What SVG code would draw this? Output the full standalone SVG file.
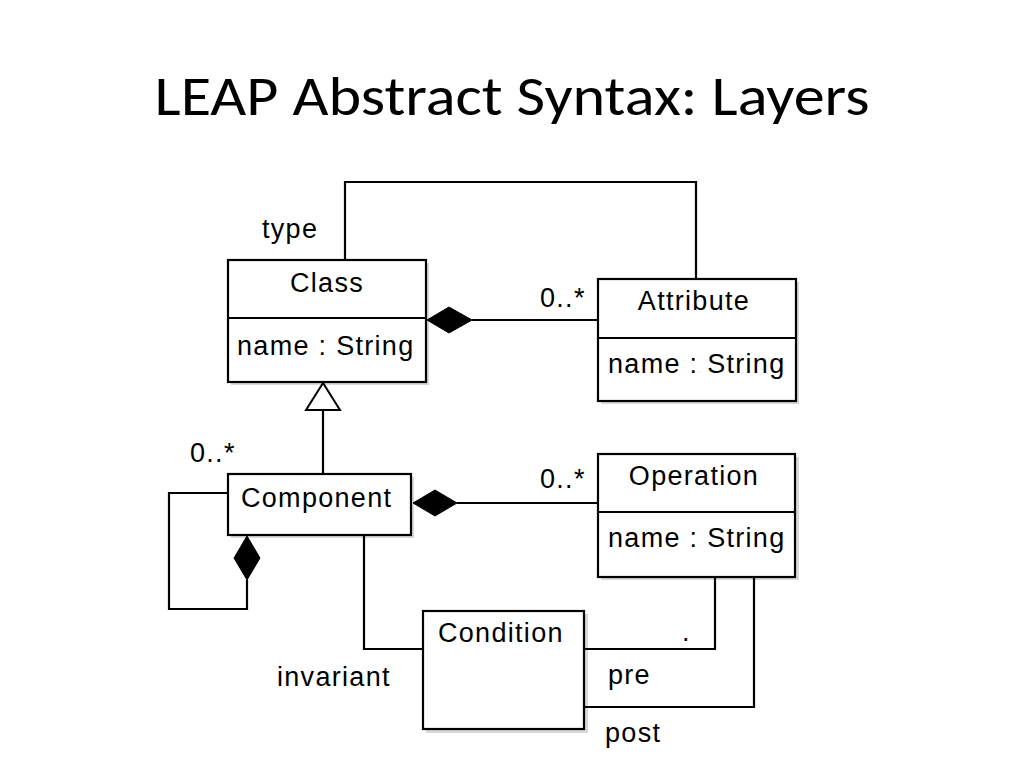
<svg xmlns="http://www.w3.org/2000/svg" width="1024" height="768" viewBox="0 0 1024 768">
<style>
.box{fill:#fff;stroke:#000;stroke-width:2.2}
.sh{fill:#d8d8d8}
.ln{fill:none;stroke:#000;stroke-width:2.2}
.t{font-family:"Liberation Sans",Arial,sans-serif;font-size:27px;fill:#000;letter-spacing:1.3px}
.c{text-anchor:middle}
.dia{fill:#000;stroke:#000;stroke-width:1}
</style>
<rect width="1024" height="768" fill="#fff"/>
<text x="512" y="115" font-family="Carlito,'Liberation Sans',sans-serif" font-size="56" text-anchor="middle" textLength="715" lengthAdjust="spacingAndGlyphs">LEAP Abstract Syntax: Layers</text>
<g id="Class">
<rect class="sh" x="231" y="263" width="198" height="122"/>
<rect class="box" x="228" y="260" width="198" height="122"/>
<line class="ln" x1="228" y1="318" x2="426" y2="318"/>
<text class="t c" x="327" y="292">Class</text>
<text class="t" x="237" y="355">name : String</text>
</g>
<g id="Attribute">
<rect class="sh" x="601" y="282" width="198" height="122"/>
<rect class="box" x="598" y="279" width="198" height="122"/>
<line class="ln" x1="598" y1="338" x2="796" y2="338"/>
<text class="t c" x="694" y="310">Attribute</text>
<text class="t" x="608" y="373">name : String</text>
</g>
<g id="Component">
<rect class="sh" x="231" y="477" width="183" height="61"/>
<rect class="box" x="228" y="474" width="183" height="61"/>
<text class="t" x="241" y="507">Component</text>
</g>
<g id="Operation">
<rect class="sh" x="601" y="457" width="198" height="123"/>
<rect class="box" x="598" y="454" width="197" height="123"/>
<line class="ln" x1="598" y1="512" x2="795" y2="512"/>
<text class="t c" x="694" y="485">Operation</text>
<text class="t" x="608" y="547">name : String</text>
</g>
<g id="Condition">
<rect class="sh" x="426" y="614" width="162" height="119"/>
<rect class="box" x="423" y="611" width="161" height="118"/>
<text class="t" x="438" y="642">Condition</text>
</g>
<g id="connectors">
<polyline class="ln" points="345,260 345,182 696,182 696,279"/>
<line class="ln" x1="472" y1="320" x2="598" y2="320"/>
<polygon class="dia" points="427,320 449,307 472,320 449,333"/>
<text class="t" x="540" y="307">0..*</text>
<polygon points="323,383 306,410 340,410" fill="#fff" stroke="#000" stroke-width="2"/>
<line class="ln" x1="323" y1="410" x2="323" y2="474"/>
<line class="ln" x1="457" y1="503" x2="598" y2="503"/>
<polygon class="dia" points="413,503 435,490 457,503 435,516"/>
<text class="t" x="540" y="488">0..*</text>
<polyline class="ln" points="228,493 169,493 169,609 247,609 247,580"/>
<polygon class="dia" points="247,536 260,558 247,580 234,558"/>
<text class="t" x="190" y="462">0..*</text>
<polyline class="ln" points="364,536 364,649 423,649"/>
<polyline class="ln" points="584,649 715,649 715,578"/>
<polyline class="ln" points="584,707 754,707 754,578"/>
<text class="t" x="262" y="238">type</text>
<text class="t" x="277" y="686">invariant</text>
<text class="t" x="608" y="684">pre</text>
<text class="t" x="605" y="742">post</text>
<text class="t" x="682" y="641">.</text>
</g>
</svg>
